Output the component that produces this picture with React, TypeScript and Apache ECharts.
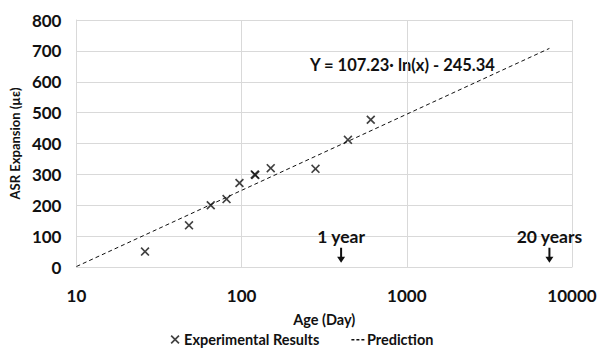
import React, { useEffect, useRef } from "react";
import * as echarts from "echarts";

const ageDays = [26, 48, 65, 81, 97, 120, 121, 150, 280, 440, 605];
const expansion = [50, 135, 200, 220, 272, 300, 298, 320, 318, 412, 477];
const predictionAge = [10, 7300];
const predictionValue = [1.6, 708];
const xTicks = [10, 100, 1000, 10000];
const yMin = 0;
const yMax = 800;
const yStep = 100;
const equationText = "Y = 107.23· ln(x) - 245.34";
const marks = [
  { label: "1 year", age: 400, value: 38 },
  { label: "20 years", age: 7300, value: 38 },
];

const FONT = "Lato";
const X_PATH =
  "path://M0,1.3 L1.3,0 L5,3.7 L8.7,0 L10,1.3 L6.3,5 L10,8.7 L8.7,10 L5,6.3 L1.3,10 L0,8.7 L3.7,5 Z";
const DASH_PATH =
  "path://M0,0h0.01v0.01h-0.01z M12.99,8.99h0.01v0.01h-0.01z M0,4h3v1.4h-3z M5,4h3v1.4h-3z M10,4h3v1.4h-3z";
const ARROW_PATH = "path://M3,0 h2 v9 h3 l-4,6 l-4,-6 h3 z";

export default function App() {
  const ref = useRef<HTMLDivElement>(null);
  useEffect(() => {
    document.body.style.margin = "0";
    const chart = echarts.init(ref.current!, null, { renderer: "svg" });
    const textBase = { fontFamily: FONT, fontWeight: "bold" as const, color: "#111" };
    chart.setOption({
      animation: false,
      backgroundColor: "#fff",
      grid: { left: 76, right: 32, top: 20, bottom: 84 },
      xAxis: {
        type: "log",
        logBase: 10,
        min: xTicks[0],
        max: xTicks[xTicks.length - 1],
        name: "Age (Day)",
        nameLocation: "middle",
        nameGap: 45,
        nameTextStyle: { ...textBase, fontSize: 14.5 },
        axisLine: { show: true, lineStyle: { color: "#d9d9d9" } },
        axisTick: { show: false },
        axisLabel: {
          ...textBase,
          fontSize: 17,
          margin: 20,
          formatter: (v: number) => String(Math.round(v)),
        },
        splitLine: { show: true, lineStyle: { color: "#d9d9d9", width: 1 } },
        minorSplitLine: { show: false },
      },
      yAxis: {
        type: "value",
        min: yMin,
        max: yMax,
        interval: yStep,
        name: "ASR Expansion (µε)",
        nameLocation: "middle",
        nameGap: 54,
        nameTextStyle: { ...textBase, fontSize: 13 },
        axisLine: { show: true, lineStyle: { color: "#d9d9d9" } },
        axisTick: { show: false },
        axisLabel: { ...textBase, fontSize: 17, margin: 15 },
        splitLine: { show: true, lineStyle: { color: "#d9d9d9", width: 1 } },
      },
      legend: {
        top: 327,
        left: "center",
        itemGap: 32,
        itemWidth: 14,
        itemHeight: 9,
        textStyle: { ...textBase, fontSize: 14.5, padding: [0, 0, 0, -3] },
        data: [
          { name: "Experimental Results", icon: X_PATH, itemStyle: { color: "#111" } },
          { name: "Prediction", icon: DASH_PATH, itemStyle: { color: "#111" } },
        ],
      },
      series: [
        {
          name: "Experimental Results",
          type: "scatter",
          symbol: X_PATH,
          symbolSize: 9,
          symbolKeepAspect: true,
          itemStyle: { color: "#111" },
          data: ageDays.map((a, i) => [a, expansion[i]]),
          z: 5,
        },
        {
          name: "Prediction",
          type: "line",
          showSymbol: false,
          symbol: "none",
          lineStyle: { color: "#111", width: 1, type: [4, 3] },
          itemStyle: { color: "#111" },
          data: predictionAge.map((a, i) => [a, predictionValue[i]]),
          markPoint: {
            silent: true,
            data: marks.map((m) => ({
              coord: [m.age, m.value],
              symbol: ARROW_PATH,
              symbolSize: [8, 15],
              itemStyle: { color: "#111" },
              label: {
                show: true,
                formatter: m.label,
                position: "top",
                distance: 2,
                ...textBase,
                fontSize: 17.5,
              },
            })),
          },
        },
      ],
      graphic: [
        {
          type: "text",
          left: 310,
          top: 56,
          style: { text: equationText, font: `bold 16.5px ${FONT}`, fill: "#111" },
        },
      ],
    });
    return () => chart.dispose();
  }, []);
  return <div ref={ref} style={{ width: 604, height: 351 }} />;
}
